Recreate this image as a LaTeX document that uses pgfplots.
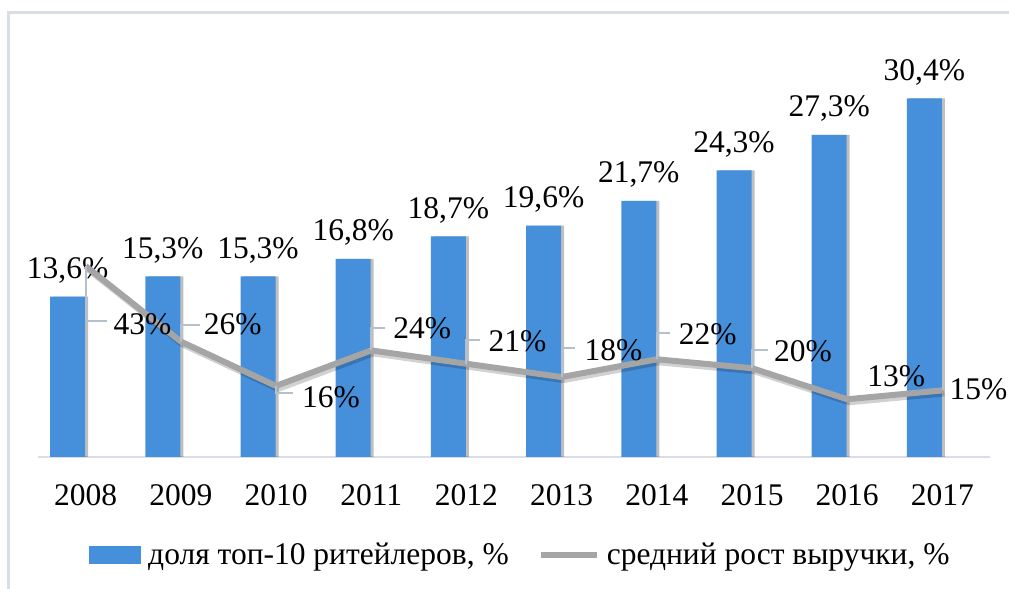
\documentclass[border=0pt]{standalone}
\usepackage{fontspec}
\setmainfont{Liberation Serif}
\usepackage{pgfplots}
\usepackage{pgfplotstable}
\pgfplotsset{compat=1.18}
\definecolor{barblue}{RGB}{70,143,218}
\definecolor{linegray}{RGB}{165,165,165}
\definecolor{frameclr}{RGB}{217,222,230}
\definecolor{leaderclr}{RGB}{180,192,208}
\newcommand\f{\fontsize{31.5bp}{36bp}\selectfont}
\pgfplotstableread{
x share growth
0 13.6 43
1 15.3 26
2 15.3 16
3 16.8 24
4 18.7 21
5 19.6 18
6 21.7 22
7 24.3 20
8 27.3 13
9 30.4 15
}\datatable
\begin{document}
\begin{tikzpicture}
\useasboundingbox (0,0) rectangle (1009bp,589bp);
\draw[frameclr, line width=3bp] (8bp,0) -- (8bp,576bp) -- (1009bp,576bp);
\begin{axis}[
  at={(38bp,132bp)}, anchor=south west, scale only axis,
  width=952bp, height=413bp,
  xmin=-0.5, xmax=9.5, ymin=0, ymax=35,
  clip=false,
  axis x line=bottom, axis y line=none,
  x axis line style={-, draw=frameclr, line width=2bp},
  xtick={0,1,2,3,4,5,6,7,8,9},
  xticklabels={2008,2009,2010,2011,2012,2013,2014,2015,2016,2017},
  major tick length=0pt,
  xticklabel style={font=\f, anchor=base, yshift=-48bp},
  /pgf/number format/assume math mode=true,
  legend columns=2,
  legend cell align=left,
  legend style={at={(0.0536,-0.237)}, anchor=west, draw=none, fill=none,
    font=\f, inner sep=0pt, nodes={inner sep=0pt},
    /tikz/every odd column/.append style={column sep=7bp},
    /tikz/every even column/.append style={column sep=29bp}},
]
\addplot[ybar, bar width=35bp, bar shift=-15bp, fill=black, fill opacity=0.25, draw=none, forget plot]
  table[x=x, y=share] {\datatable};
\addplot[ybar, bar width=35bp, bar shift=-18bp, fill=barblue, draw=none,
  point meta=y,
  nodes near coords={\pgfmathprintnumber[fixed, fixed zerofill, precision=1, use comma]{\pgfplotspointmeta}\%},
  nodes near coords style={font=\f, anchor=base, xshift=-18bp, yshift=18bp, inner sep=0pt, text=black},
  legend image code/.code={\fill[barblue] (0bp,-9bp) rectangle (52bp,9bp);}]
  table[x=x, y=share] {\datatable};
\addlegendentry{доля топ-10 ритейлеров, \%}
\addlegendimage{legend image code/.code={\draw[line width=6bp, linegray] (0bp,0bp) -- (56bp,0bp);}}
\addlegendentry{средний рост выручки, \%}
\end{axis}
\begin{axis}[
  at={(38bp,132bp)}, anchor=south west, scale only axis,
  width=952bp, height=413bp,
  xmin=-0.5, xmax=9.5, ymin=0, ymax=93,
  clip=false, hide axis,
]
\addplot[black, opacity=0.18, line width=6bp, line join=round, xshift=2bp, yshift=-3bp]
  table[x=x, y=growth] {\datatable};
\addplot[linegray, line width=6bp, line join=round]
  table[x=x, y=growth] {\datatable};
\begin{scope}[leaderclr, line width=2bp]
\draw (axis cs:0,43) -- ++(0bp,-55bp) -- ++(21bp,0bp);
\draw (axis cs:1,26) -- ++(0bp,17bp) -- ++(19bp,0bp);
\draw (axis cs:2,16) -- ++(0bp,-7bp) -- ++(17bp,0bp);
\draw (axis cs:3,24) -- ++(0bp,22bp) -- ++(14bp,0bp);
\draw (axis cs:4,21) -- ++(0bp,24bp) -- ++(14bp,0bp);
\draw (axis cs:5,18) -- ++(0bp,29bp) -- ++(13bp,0bp);
\draw (axis cs:6,22) -- ++(0bp,26bp) -- ++(13bp,0bp);
\draw (axis cs:7,20) -- ++(0bp,18bp) -- ++(16bp,0bp);
\end{scope}
\begin{scope}[every node/.style={font=\f, inner sep=0pt}]
\node at ([xshift=57bp,yshift=-58bp]axis cs:0,43) {43\%};
\node at ([xshift=52bp,yshift=17bp]axis cs:1,26) {26\%};
\node at ([xshift=55bp,yshift=-11bp]axis cs:2,16) {16\%};
\node at ([xshift=51bp,yshift=22bp]axis cs:3,24) {24\%};
\node at ([xshift=51bp,yshift=23bp]axis cs:4,21) {21\%};
\node at ([xshift=52bp,yshift=27bp]axis cs:5,18) {18\%};
\node at ([xshift=51bp,yshift=25bp]axis cs:6,22) {22\%};
\node at ([xshift=51bp,yshift=17bp]axis cs:7,20) {20\%};
\node at ([xshift=49bp,yshift=23bp]axis cs:8,13) {13\%};
\node at ([xshift=36bp,yshift=1bp]axis cs:9,15) {15\%};
\end{scope}
\end{axis}
\end{tikzpicture}
\end{document}
